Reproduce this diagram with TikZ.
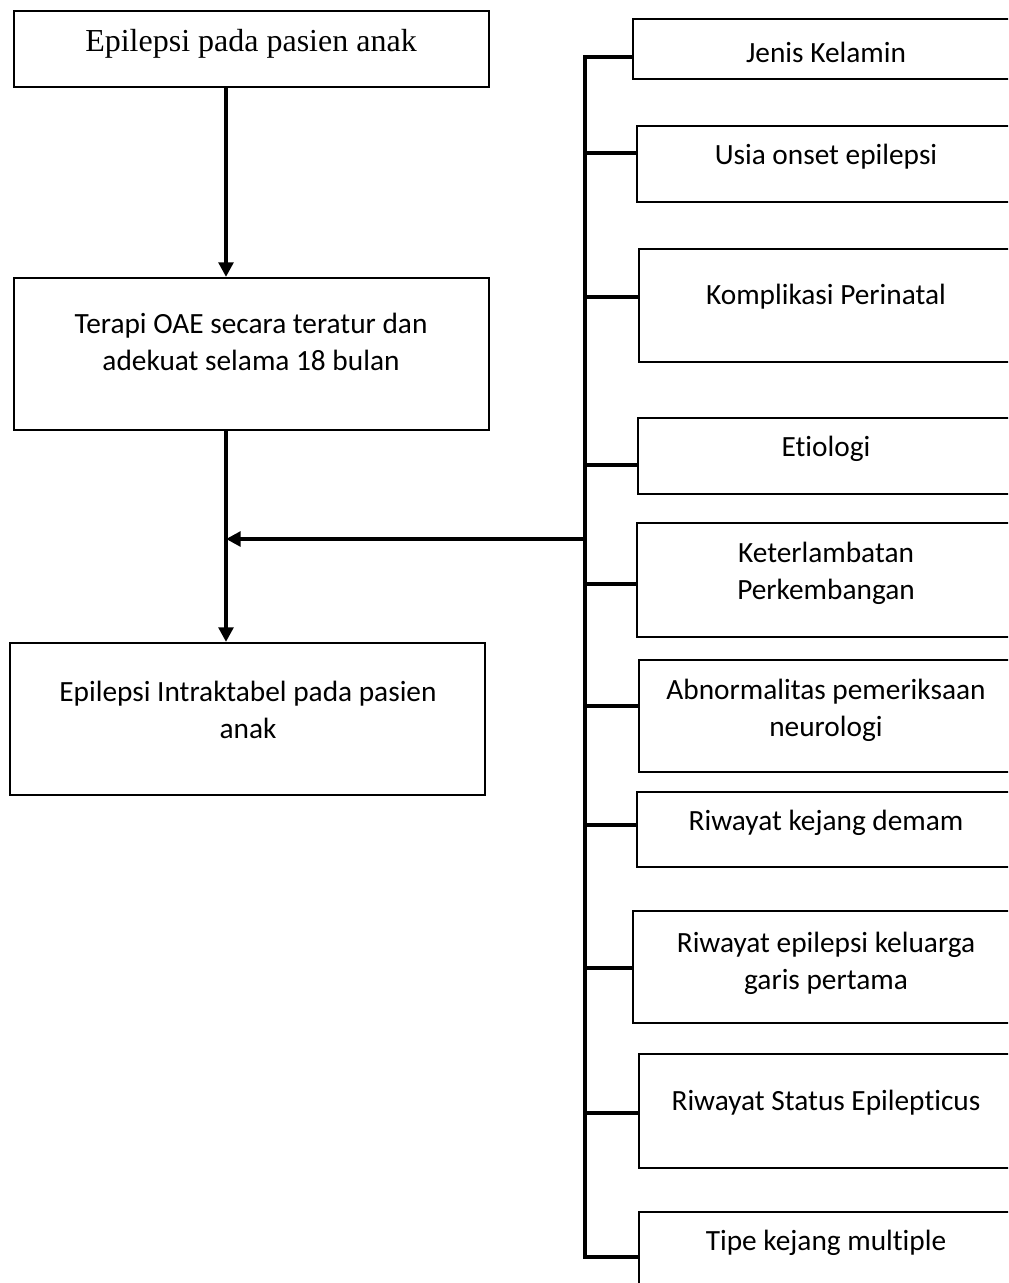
\documentclass[tikz,border=0pt]{standalone}
\usepackage{fontspec}
\setmainfont[Ligatures={NoCommon,NoContextual}]{Carlito}
\newfontfamily\tnr{Liberation Serif}
\usetikzlibrary{fit,arrows.meta}
\tikzset{
  box/.style={draw=black, line width=1.6pt, inner sep=0pt, fill=none},
  txt/.style={align=center, inner sep=0pt, font=\fontsize{22}{27.75}\selectfont},
  conn/.style={line width=3pt, line cap=butt},
  arr/.style={conn, -{Triangle[length=11pt,width=11pt]}}
}
\begin{document}
\begin{tikzpicture}[x=0.75pt,y=-0.75pt]
\useasboundingbox (0,0) rectangle (1008,1283);
\clip (0,0) rectangle (1008,1283);
% left column
\node[box, fit={(14,11) (489,87)}] (b1) {};
\node[txt, font=\tnr\fontsize{24}{27}\selectfont] (t1) at (251,44) {Epilepsi pada pasien anak};
\node[box, fit={(14,278) (489,430)}] (b2) {};
\node[txt] (t2) at (251,342) {Terapi OAE secara teratur dan\\adekuat selama 18 bulan};
\node[box, fit={(10,643) (485,795)}] (b3) {};
\node[txt] (t3) at (248,710) {Epilepsi Intraktabel pada pasien\\anak};
\coordinate (ax) at (226,0);
% right column
\node[box, fit={(633,19) (1014,79)}] (r1) {};
\node[txt] (s1) at (826,52) {Jenis Kelamin};
\node[box, fit={(637,126) (1014,202)}] (r2) {};
\node[txt] (s2) at (826,157) {Usia onset epilepsi};
\node[box, fit={(639,249) (1014,362)}] (r3) {};
\node[txt] (s3) at (826,297) {Komplikasi Perinatal};
\node[box, fit={(638,418) (1014,494)}] (r4) {};
\node[txt] (s4) at (826,449) {Etiologi};
\node[box, fit={(637,523) (1014,637)}] (r5) {};
\node[txt] (s5) at (826,573) {Keterlambatan\\Perkembangan};
\node[box, fit={(639,660) (1014,772)}] (r6) {};
\node[txt] (s6) at (826,710) {Abnormalitas pemeriksaan\\neurologi};
\node[box, fit={(637,792) (1014,867)}] (r7) {};
\node[txt] (s7) at (826,823) {Riwayat kejang demam};
\node[box, fit={(633,911) (1014,1023)}] (r8) {};
\node[txt] (s8) at (826,963) {Riwayat epilepsi keluarga\\garis pertama};
\node[box, fit={(639,1054) (1014,1168)}] (r9) {};
\node[txt] (s9) at (826,1103) {Riwayat Status Epilepticus};
\node[box, fit={(639,1212) (1014,1300)}] (r10) {};
\node[txt] (s10) at (826,1243) {Tipe kejang multiple};
% bus
\coordinate (c1) at (585,57);
\coordinate (c2) at (585,153);
\coordinate (c3) at (585,297);
\coordinate (c4) at (585,465);
\coordinate (c5) at (585,584);
\coordinate (c6) at (585,706);
\coordinate (c7) at (585,825);
\coordinate (c8) at (585,968);
\coordinate (c9) at (585,1113);
\coordinate (c10) at (585,1257);
\coordinate (hj) at (585,539);
\draw[conn, line cap=rect] (c1) -- (c10);
\foreach \i in {1,...,10} {\draw[conn] (c\i) -- (c\i -| r\i.west);}
% arrows
\draw[arr] (b1.south -| ax) -- (b2.north -| ax);
\draw[arr] (b2.south -| ax) -- (b3.north -| ax);
\draw[arr] (hj) -- (hj -| ax);
\end{tikzpicture}
\end{document}
